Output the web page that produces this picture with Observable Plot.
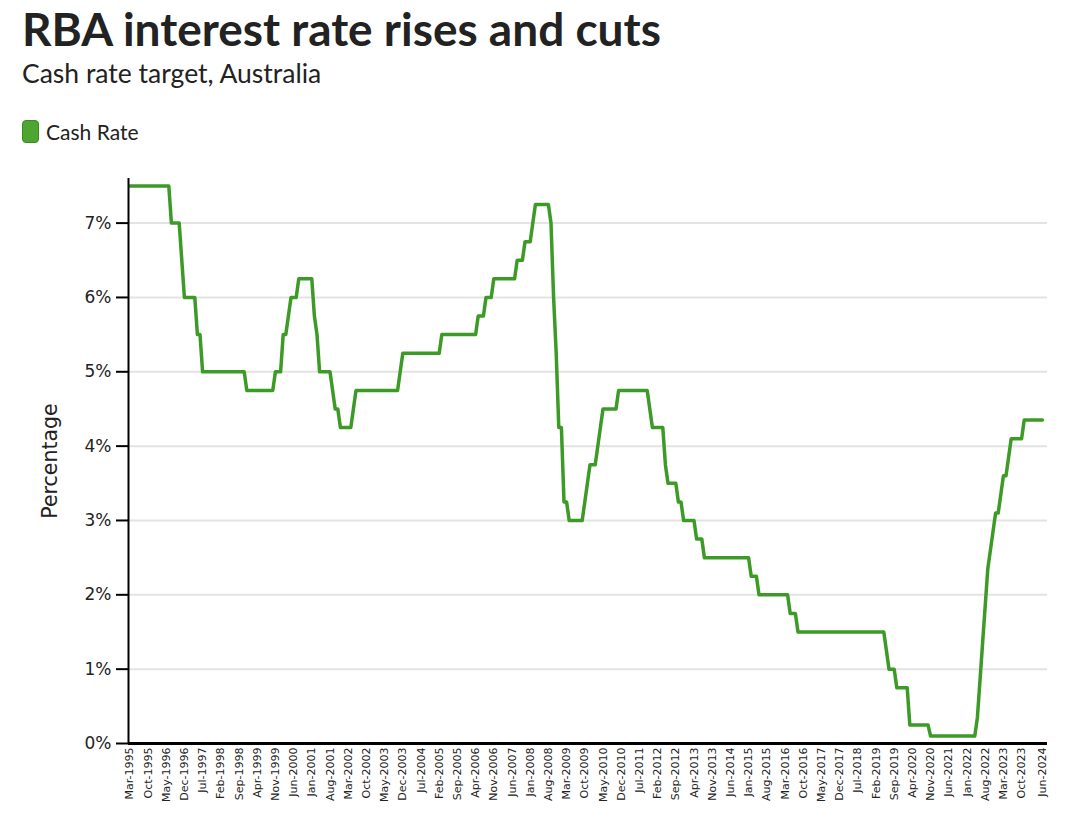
<!DOCTYPE html>
<html>
<head>
<meta charset="utf-8">
<script src="https://cdn.jsdelivr.net/npm/d3@7"></script>
<script src="https://cdn.jsdelivr.net/npm/@observablehq/plot@0.6"></script>
<style>
  body { margin: 0; background: #fff; width: 1080px; height: 834px; overflow: hidden; position: relative; font-family: Lato, "Open Sans", sans-serif; color: #222; }
  #title { position: absolute; left: 22px; top: 6px; font-size: 46px; line-height: 46px; font-weight: 700; white-space: nowrap; }
  #subtitle { position: absolute; left: 22px; top: 60px; font-size: 26.5px; line-height: 26.5px; white-space: nowrap; }
  #legend { position: absolute; left: 22px; top: 119px; height: 24px; display: flex; align-items: center; white-space: nowrap; }
  #legend .sw { width: 15px; height: 21px; border-radius: 4px; background: #4ea52f; border: 1px solid #3a8c22; margin-right: 7px; }
  #legend .lb { font-size: 21px; line-height: 21px; }
  #chart { position: absolute; left: 0; top: 160px; }
</style>
</head>
<body>
<div id="title">RBA interest rate rises and cuts</div>
<div id="subtitle">Cash rate target, Australia</div>
<div id="legend"><div class="sw"></div><div class="lb">Cash Rate</div></div>
<div id="chart"></div>
<script>
// Cash rate target (%), end of month, Mar-1995 .. Jun-2024
const cashRate = [
  /*1995 Mar-Dec*/ 7.5,7.5,7.5,7.5,7.5,7.5,7.5,7.5,7.5,7.5,
  /*1996*/ 7.5,7.5,7.5,7.5,7.5,7.5,7,7,7,7,6.5,6,
  /*1997*/ 6,6,6,6,5.5,5.5,5,5,5,5,5,5,
  /*1998*/ 5,5,5,5,5,5,5,5,5,5,5,4.75,
  /*1999*/ 4.75,4.75,4.75,4.75,4.75,4.75,4.75,4.75,4.75,4.75,5,5,
  /*2000*/ 5,5.5,5.5,5.75,6,6,6,6.25,6.25,6.25,6.25,6.25,
  /*2001*/ 6.25,5.75,5.5,5,5,5,5,5,4.75,4.5,4.5,4.25,
  /*2002*/ 4.25,4.25,4.25,4.25,4.5,4.75,4.75,4.75,4.75,4.75,4.75,4.75,
  /*2003*/ 4.75,4.75,4.75,4.75,4.75,4.75,4.75,4.75,4.75,4.75,5,5.25,
  /*2004*/ 5.25,5.25,5.25,5.25,5.25,5.25,5.25,5.25,5.25,5.25,5.25,5.25,
  /*2005*/ 5.25,5.25,5.5,5.5,5.5,5.5,5.5,5.5,5.5,5.5,5.5,5.5,
  /*2006*/ 5.5,5.5,5.5,5.5,5.75,5.75,5.75,6,6,6,6.25,6.25,
  /*2007*/ 6.25,6.25,6.25,6.25,6.25,6.25,6.25,6.5,6.5,6.5,6.75,6.75,
  /*2008*/ 6.75,7,7.25,7.25,7.25,7.25,7.25,7.25,7,6,5.25,4.25,
  /*2009*/ 4.25,3.25,3.25,3,3,3,3,3,3,3.25,3.5,3.75,
  /*2010*/ 3.75,3.75,4,4.25,4.5,4.5,4.5,4.5,4.5,4.5,4.75,4.75,
  /*2011*/ 4.75,4.75,4.75,4.75,4.75,4.75,4.75,4.75,4.75,4.75,4.5,4.25,
  /*2012*/ 4.25,4.25,4.25,4.25,3.75,3.5,3.5,3.5,3.5,3.25,3.25,3,
  /*2013*/ 3,3,3,3,2.75,2.75,2.75,2.5,2.5,2.5,2.5,2.5,
  /*2014*/ 2.5,2.5,2.5,2.5,2.5,2.5,2.5,2.5,2.5,2.5,2.5,2.5,
  /*2015*/ 2.5,2.25,2.25,2.25,2,2,2,2,2,2,2,2,
  /*2016*/ 2,2,2,2,1.75,1.75,1.75,1.5,1.5,1.5,1.5,1.5,
  /*2017*/ 1.5,1.5,1.5,1.5,1.5,1.5,1.5,1.5,1.5,1.5,1.5,1.5,
  /*2018*/ 1.5,1.5,1.5,1.5,1.5,1.5,1.5,1.5,1.5,1.5,1.5,1.5,
  /*2019*/ 1.5,1.5,1.5,1.5,1.5,1.25,1,1,1,0.75,0.75,0.75,
  /*2020*/ 0.75,0.75,0.25,0.25,0.25,0.25,0.25,0.25,0.25,0.25,0.1,0.1,
  /*2021*/ 0.1,0.1,0.1,0.1,0.1,0.1,0.1,0.1,0.1,0.1,0.1,0.1,
  /*2022*/ 0.1,0.1,0.1,0.1,0.35,0.85,1.35,1.85,2.35,2.6,2.85,3.1,
  /*2023*/ 3.1,3.35,3.6,3.6,3.85,4.1,4.1,4.1,4.1,4.1,4.35,4.35,
  /*2024*/ 4.35,4.35,4.35,4.35,4.35,4.35
];

const xTickLabels = [
  "Mar-1995","Oct-1995","May-1996","Dec-1996","Jul-1997","Feb-1998","Sep-1998","Apr-1999","Nov-1999",
  "Jun-2000","Jan-2001","Aug-2001","Mar-2002","Oct-2002","May-2003","Dec-2003","Jul-2004","Feb-2005",
  "Sep-2005","Apr-2006","Nov-2006","Jun-2007","Jan-2008","Aug-2008","Mar-2009","Oct-2009","May-2010",
  "Dec-2010","Jul-2011","Feb-2012","Sep-2012","Apr-2013","Nov-2013","Jun-2014","Jan-2015","Aug-2015",
  "Mar-2016","Oct-2016","May-2017","Dec-2017","Jul-2018","Feb-2019","Sep-2019","Apr-2020","Nov-2020",
  "Jun-2021","Jan-2022","Aug-2022","Mar-2023","Oct-2023","Jun-2024"
];

const yTicks = [0, 1, 2, 3, 4, 5, 6, 7];

const fmt = d3.utcFormat("%b-%Y");
const months = d3.utcMonth.range(new Date(Date.UTC(1995, 2, 1)), new Date(Date.UTC(2024, 6, 1))).map(fmt);
const data = months.map((m, i) => ({month: m, rate: cashRate[i]}));

const chart = Plot.plot({
  width: 1080,
  height: 674,
  marginTop: 18,
  marginBottom: 91,
  marginLeft: 128,
  marginRight: 33,
  style: {fontFamily: "DejaVu Sans, sans-serif", fontSize: "11px", color: "#222", background: "#fff"},
  x: {type: "point", domain: months, range: [129.3, 1041.9], padding: 0},
  y: {domain: [0, 7.6]},
  marks: [
    Plot.gridY(yTicks, {stroke: "#e3e3e3", strokeOpacity: 1, strokeWidth: 2}),
    Plot.line(data, {x: "month", y: "rate", stroke: "#3c9b26", strokeWidth: 3.5}),
    Plot.ruleY([0], {stroke: "#000", strokeWidth: 3}),
    Plot.ruleX([months[0]], {stroke: "#000", strokeWidth: 2, dx: -1.3}),
    Plot.axisY({ticks: yTicks, tickFormat: d => d + "%", tickSize: 12, tickPadding: 5, stroke: "#000", strokeWidth: 2,
      fontSize: 17, fill: "#222", label: "Percentage", labelAnchor: "center", labelOffset: 86, labelArrow: false}),
    Plot.axisX({ticks: xTickLabels, tickRotate: -90, tickSize: 0, tickPadding: 4, fontSize: 11, fill: "#222", label: null})
  ]
});
document.getElementById("chart").appendChild(chart);
// axis label size
chart.querySelectorAll("[aria-label='y-axis label'] text").forEach(t => t.setAttribute("font-size", "20.5"));
</script>
</body>
</html>
